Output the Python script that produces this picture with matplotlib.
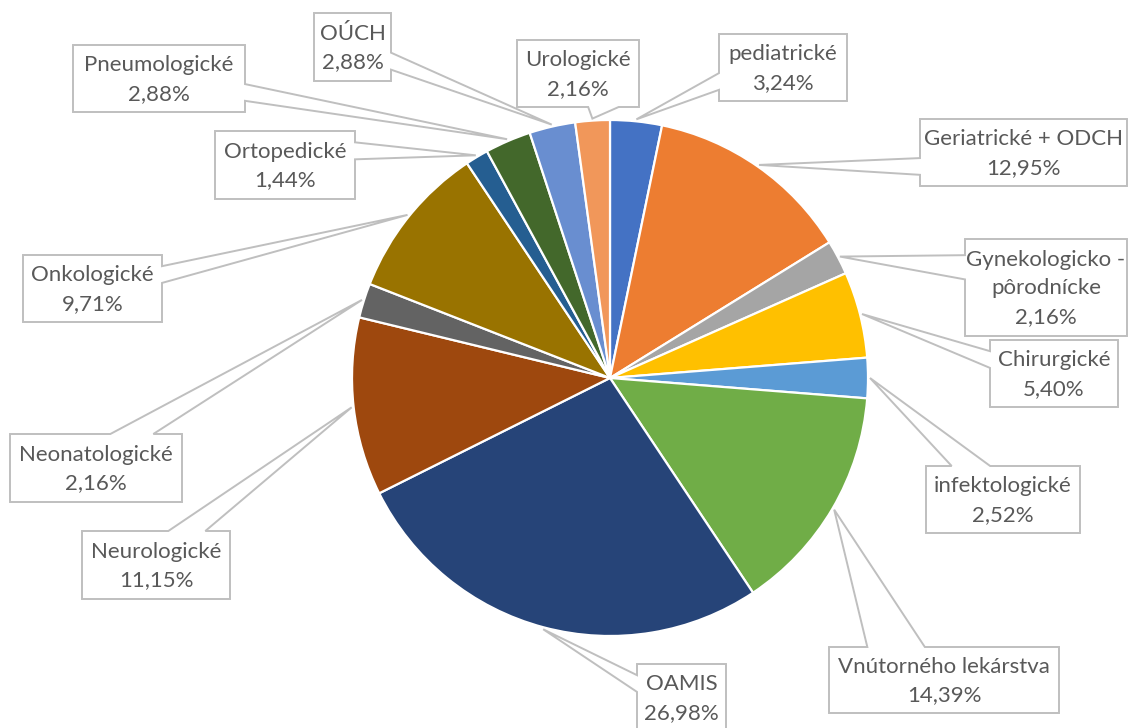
import numpy as np
import matplotlib
matplotlib.use("Agg")
import matplotlib.pyplot as plt
from matplotlib.patches import Polygon

W, H = 1128, 728

# --- data (clockwise from 12 o'clock) ---
departments = ["pediatrické", "Geriatrické + ODCH", "Gynekologicko -\npôrodnícke", "Chirurgické",
               "infektologické", "Vnútorného lekárstva", "OAMIS", "Neurologické",
               "Neonatologické", "Onkologické", "Ortopedické", "Pneumologické", "OÚCH", "Urologické"]
counts = [9, 36, 6, 15, 7, 40, 75, 31, 6, 27, 4, 8, 8, 6]
colors = ["#4472C4", "#ED7D31", "#A5A5A5", "#FFC000", "#5B9BD5", "#70AD47", "#264478",
          "#9E480E", "#636363", "#997300", "#255E91", "#43682B", "#698ED0", "#F1975A"]

# label boxes in image pixels: left, top, right, bottom
boxes = [(719, 34, 847, 101), (920, 119, 1127, 186), (965, 239, 1127, 336), (990, 340, 1118, 407),
         (926, 466, 1080, 533), (829, 647, 1059, 713), (637, 664, 726, 731), (82, 531, 230, 599),
         (10, 434, 182, 502), (23, 255, 162, 322), (215, 131, 355, 199), (73, 45, 245, 112),
         (314, 13, 391, 81), (517, 40, 639, 107)]

CX, CY, R = 610, 378, 258
TXT = "#595959"
EDGE = "#BFBFBF"
FONT = ["Lato", "DejaVu Sans"]


def callout(box, tip):
    # rectangle with a wedge pointer, like the excel data callout
    x0, y0, x1, y1 = box
    w, h = x1 - x0, y1 - y0
    dxp = tip[0] - (x0 + x1) / 2
    dyp = tip[1] - (y0 + y1) / 2
    if abs(dxp * h) > abs(dyp * w):
        a, b = (y0 + h * 2 / 12, y0 + h * 5 / 12) if dyp < 0 else (y0 + h * 7 / 12, y0 + h * 10 / 12)
        if dxp > 0:
            pts = [(x0, y0), (x1, y0), (x1, a), tip, (x1, b), (x1, y1), (x0, y1)]
        else:
            pts = [(x0, y0), (x1, y0), (x1, y1), (x0, y1), (x0, b), tip, (x0, a)]
    else:
        a, b = (x0 + w * 2 / 12, x0 + w * 5 / 12) if dxp < 0 else (x0 + w * 7 / 12, x0 + w * 10 / 12)
        if dyp < 0:
            pts = [(x0, y0), (a, y0), tip, (b, y0), (x1, y0), (x1, y1), (x0, y1)]
        else:
            pts = [(x0, y0), (x1, y0), (x1, y1), (b, y1), tip, (a, y1), (x0, y1)]
    return [(px, H - py) for px, py in pts]


fig = plt.figure(figsize=(W / 100, H / 100), dpi=100)
ax = fig.add_axes([0, 0, 1, 1])

wedges, _ = ax.pie(counts, colors=colors, startangle=90, counterclock=False, radius=R,
                   center=(CX, H - CY), wedgeprops=dict(edgecolor="white", linewidth=1.6))

total = sum(counts)
for wdg, name, n, box in zip(wedges, departments, counts, boxes):
    mid = np.deg2rad((wdg.theta1 + wdg.theta2) / 2)
    tip = (CX + (R + 2) * np.cos(mid), CY - (R + 2) * np.sin(mid))
    ax.add_patch(Polygon(callout(box, tip), closed=True, facecolor="white",
                         edgecolor=EDGE, linewidth=1.4, zorder=3))
    pct = f"{n / total * 100:.2f}".replace(".", ",") + "%"
    ax.text((box[0] + box[2]) / 2, H - (box[1] + box[3]) / 2 - 1, name + "\n" + pct,
            ha="center", va="center", fontsize=16, color=TXT, family=FONT,
            linespacing=1.55, zorder=4)

ax.set_xlim(0, W)
ax.set_ylim(0, H)
ax.set_aspect("auto")
ax.axis("off")
fig.savefig("out.png", dpi=100, facecolor="white")
